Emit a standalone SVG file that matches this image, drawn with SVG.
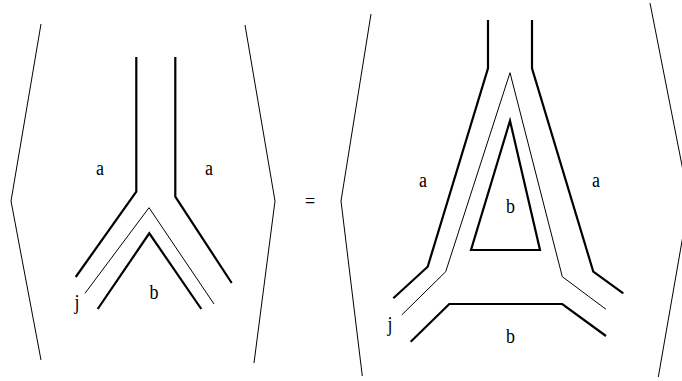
<svg xmlns="http://www.w3.org/2000/svg" width="682" height="381" viewBox="0 0 682 381">
<style>
.thick{fill:none;stroke:#000;stroke-width:2.2}
.thin{fill:none;stroke:#000;stroke-width:1}
.br{fill:none;stroke:#000;stroke-width:1}
</style>
<rect width="682" height="381" fill="#fff"/>
<g id="left-bracket-l"><polyline class="br" points="41,24 11,201 41,360"/></g>
<g id="left-bracket-r"><polyline class="br" points="245,25 275,201 254,363"/></g>
<g id="left-strands">
<polyline class="thick" points="136.3,57 136.3,191.7 75.7,277"/>
<polyline class="thick" points="175.3,57 175.3,196.7 231.7,283"/>
<polyline class="thin" points="85,293.3 149,207.7 214,304"/>
<polyline class="thick" points="97.7,309 149.3,233.3 201.3,309"/>
</g>
<g font-family="Liberation Serif, Times New Roman, serif" font-size="18" text-anchor="middle" fill="#000">
<g id="left-labels">
<text transform="translate(100,175) scale(1,1.2)">a</text>
<text transform="translate(209,175) scale(1,1.2)">a</text>
<text transform="translate(154,299) scale(1,1.2)">b</text>
<text transform="translate(77,309) scale(1,1.2)">j</text>
</g>
<g id="equals"><text transform="translate(310,208) scale(1,1.2)">=</text></g>
<g id="right-labels">
<text transform="translate(423,187) scale(1,1.2)">a</text>
<text transform="translate(596,187) scale(1,1.2)">a</text>
<text transform="translate(510.5,213) scale(1,1.2)">b</text>
<text transform="translate(510.5,343) scale(1,1.2)">b</text>
<text transform="translate(390,331) scale(1,1.2)">j</text>
</g>
</g>
<g id="right-bracket-l"><polyline class="br" points="371,14 341,201 362.3,376"/></g>
<g id="right-bracket-r"><polyline class="br" points="650,3 689,201 658.3,377"/></g>
<g id="right-strands">
<polyline class="thick" points="488,20 488,68.3 427.7,266.7 393.3,298.3"/>
<polyline class="thick" points="532,20 532,68.3 593.3,271.7 623.3,293.3"/>
<polyline class="thin" points="401.7,315 445.7,271.7 510,72.7 562.3,276.7 606,309.3"/>
<polygon class="thick" points="510,120.7 540,250 471,250"/>
<polyline class="thick" points="410.7,341.7 449.3,304 562.3,304 606,336"/>
</g>
</svg>
